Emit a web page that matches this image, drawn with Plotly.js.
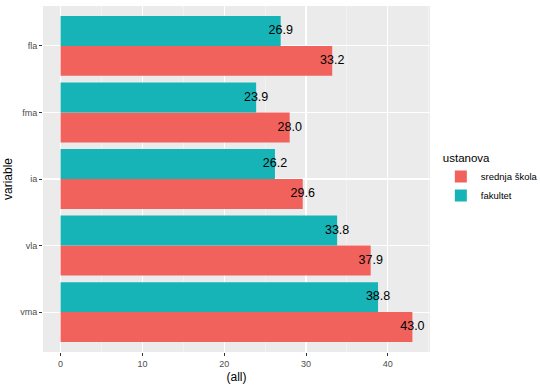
<!DOCTYPE html>
<html>
<head>
<meta charset="utf-8">
<script src="https://cdn.plot.ly/plotly-3.0.1.min.js"></script>
<style>html,body{margin:0;padding:0;background:#fff;}#chart{width:540px;height:386px;}</style>
</head>
<body>
<div id="chart"></div>
<script>
const categories = ['fla', 'fma', 'ia', 'vla', 'vma'];
const srednjaSkola = [33.2, 28.0, 29.6, 37.9, 43.0];
const fakultet = [26.9, 23.9, 26.2, 33.8, 38.8];
const seriesNames = ['srednja škola', 'fakultet'];
const xTicks = [0, 10, 20, 30, 40];

const red = '#F2625C';
const teal = '#17B4B7';
const font = 'Liberation Sans, Arial, Helvetica, sans-serif';

const traces = [
  {type: 'bar', orientation: 'h', name: seriesNames[0], y: categories, x: srednjaSkola,
   marker: {color: red}, hoverinfo: 'skip'},
  {type: 'bar', orientation: 'h', name: seriesNames[1], y: categories, x: fakultet,
   marker: {color: teal}, hoverinfo: 'skip'},
  {type: 'scatter', mode: 'text', orientation: 'h', y: categories, x: srednjaSkola,
   texttemplate: '%{x:.1f}', textposition: 'middle center', showlegend: false,
   textfont: {family: font, size: 12.5, color: '#000'}, hoverinfo: 'skip'},
  {type: 'scatter', mode: 'text', orientation: 'h', y: categories, x: fakultet,
   texttemplate: '%{x:.1f}', textposition: 'middle center', showlegend: false,
   textfont: {family: font, size: 12.5, color: '#000'}, hoverinfo: 'skip'}
];

const layout = {
  width: 540, height: 386,
  margin: {l: 43, r: 110, t: 6, b: 34, autoexpand: false},
  paper_bgcolor: '#fff',
  plot_bgcolor: '#EBEBEB',
  barmode: 'group', bargap: 0.1, bargroupgap: 0,
  scattermode: 'group', scattergap: 0.1,
  font: {family: font},
  xaxis: {
    range: [-2.15, 45.15], tickvals: xTicks, ticktext: xTicks.map(String),
    showgrid: true, gridcolor: '#fff', gridwidth: 1.1,
    minor: {dtick: 5, showgrid: true, gridcolor: '#F6F6F6', gridwidth: 0.6},
    zeroline: false, showline: false,
    ticks: 'outside', ticklen: 3, tickcolor: '#333', tickwidth: 1,
    tickfont: {size: 9, color: '#4d4d4d'},
    title: {text: '(all)', font: {size: 12, color: '#000'}, standoff: 4}
  },
  yaxis: {
    type: 'category', categoryorder: 'array', categoryarray: categories.slice().reverse(),
    range: [-0.6, 4.6],
    showgrid: true, gridcolor: '#fff', gridwidth: 1.1,
    zeroline: false, showline: false,
    ticks: 'outside', ticklen: 3, tickcolor: '#333', tickwidth: 1,
    tickfont: {size: 9, color: '#4d4d4d'},
    title: {text: 'variable', font: {size: 12, color: '#000'}, standoff: 4}
  },
  legend: {
    x: 1.028, xanchor: 'left', y: 0.592, yanchor: 'top',
    title: {text: 'ustanova', font: {size: 11.5, color: '#000'}},
    font: {size: 9.5, color: '#000'},
    traceorder: 'normal', tracegroupgap: 0, itemwidth: 30,
    bgcolor: 'rgba(0,0,0,0)'
  },
  showlegend: true
};

Plotly.newPlot('chart', traces, layout, {displayModeBar: false, staticPlot: true});
</script>
</body>
</html>
